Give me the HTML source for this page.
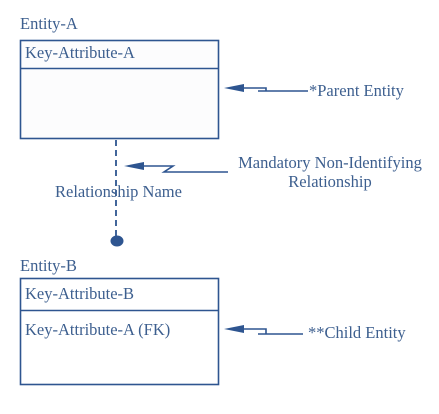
<!DOCTYPE html>
<html><head><meta charset="utf-8"><style>
body{margin:0;background:#fff;width:439px;height:409px;overflow:hidden}
svg text{font-family:"Liberation Serif","DejaVu Serif",serif;font-size:16.5px;fill:#3d5f8f}
</style></head><body>
<svg width="439" height="409" viewBox="0 0 439 409">
<text x="20" y="29">Entity-A</text>
<rect x="20.5" y="40.5" width="198" height="98" fill="#fcfcfd" stroke="#2e5590" stroke-width="1.6"/>
<line x1="21" y1="68.5" x2="218" y2="68.5" stroke="#2e5590" stroke-width="1.6"/>
<text x="25" y="58">Key-Attribute-A</text>
<line x1="116" y1="140" x2="116" y2="237" stroke="#2e5590" stroke-width="1.8" stroke-dasharray="6,4"/>
<ellipse cx="117" cy="241" rx="6.5" ry="5.5" fill="#2e5590"/>
<text x="55" y="197">Relationship Name</text>
<text x="330" y="168" text-anchor="middle">Mandatory Non-Identifying</text>
<text x="330" y="187" text-anchor="middle">Relationship</text>
<g fill="none" stroke="#2e5590" stroke-width="1.6">
<polyline points="240,88 266,88 266,91 258,91 308,91"/>
<polyline points="140,166 173,166 164,172 228,172"/>
<polyline points="240,329 266,329 266,334 258,334 303,334"/>
</g>
<polygon points="224,88 244,84 244,92" fill="#2e5590"/>
<polygon points="124,166 144,162 144,170" fill="#2e5590"/>
<polygon points="224,329 244,325 244,333" fill="#2e5590"/>
<text x="309" y="96">*Parent Entity</text>
<text x="308" y="338">**Child Entity</text>
<text x="20" y="271">Entity-B</text>
<rect x="20.5" y="278.5" width="198" height="106" fill="#fff" stroke="#2e5590" stroke-width="1.6"/>
<line x1="21" y1="310.5" x2="218" y2="310.5" stroke="#2e5590" stroke-width="1.6"/>
<text x="25" y="299">Key-Attribute-B</text>
<text x="25" y="335">Key-Attribute-A (FK)</text>
</svg>
</body></html>
